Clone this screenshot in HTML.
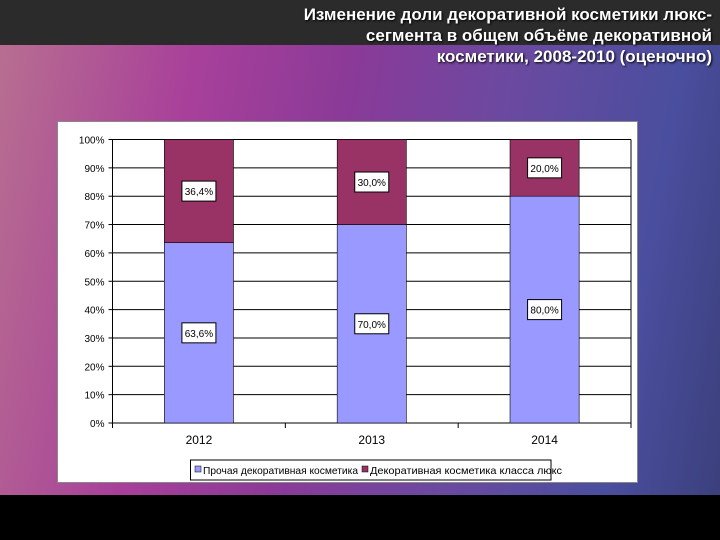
<!DOCTYPE html>
<html><head><meta charset="utf-8"><style>
body{margin:0;width:720px;height:540px;overflow:hidden;position:relative;font-family:"Liberation Sans",sans-serif;
background:linear-gradient(100deg,#b87090 0%,#a8409a 25%,#8a3a98 45%,#6a4aa0 65%,#4a4e9e 85%,#3a3f7a 100%);}
#hdr{position:absolute;left:0;top:0;width:720px;height:45px;background:#2b2b2b;}
#title{position:absolute;right:8px;top:4px;text-align:right;color:#fff;font-weight:bold;font-size:17px;line-height:21px;text-shadow:1px 1px 2px #000;}
#foot{position:absolute;left:0;top:495px;width:720px;height:45px;background:#000;}
#box{position:absolute;left:57px;top:121px;width:581px;height:362px;background:#fff;border:1px solid #888;box-sizing:border-box;}
svg{position:absolute;left:0;top:0;}
</style></head><body>
<div id="hdr"></div>
<div id="title">Изменение доли декоративной косметики люкс-<br>сегмента в общем объёме декоративной<br>косметики, 2008-2010 (оценочно)</div>
<div id="foot"></div>
<div id="box"></div>
<svg id="chart" width="720" height="540"></svg>
<script>
const categories=["2012","2013","2014"];
const otherVals=[63.6,70.0,80.0];
const luxVals=[36.4,30.0,20.0];
const otherLabels=["63,6%","70,0%","80,0%"];
const luxLabels=["36,4%","30,0%","20,0%"];
const yTicks=[0,10,20,30,40,50,60,70,80,90,100];
const legendNames=["Прочая декоративная косметика","Декоративная косметика класса люкс"];

const svg=document.getElementById('chart');const NS='http://www.w3.org/2000/svg';
const L=112.5,R=631,T=139.5,B=423;
const y=v=>B-(v/100)*(B-T);
const cw=(R-L)/categories.length;
const x=i=>L+cw*i+cw/2;
function mk(t,a,p){const e=document.createElementNS(NS,t);for(const k in a)e.setAttribute(k,a[k]);(p||svg).appendChild(e);return e;}
yTicks.forEach(v=>{
 const g=mk('line',{x1:L,x2:R,y1:y(v),y2:y(v),stroke:'#000','stroke-width':1});
 
 
 mk('line',{x1:L-4,x2:L,y1:y(v),y2:y(v),stroke:'#000'});
 const t=mk('text',{x:L-8,y:y(v)+4,'text-anchor':'end','font-size':10,fill:'#000'});t.textContent=v+'%';
 
 
});
mk('line',{x1:L,x2:L,y1:T,y2:B,stroke:'#000'});
mk('line',{x1:R,x2:R,y1:T,y2:B,stroke:'#000'});
for(let i=0;i<=categories.length;i++)mk('line',{x1:L+cw*i,x2:L+cw*i,y1:B,y2:B+5,stroke:'#000'});
const bw=cw*0.4;
function label(cx,cy,txt){
 const w=34,h=20;
 const r=mk('rect',{x:cx-w/2,y:cy-h/2,width:w,height:h,fill:'#fff',stroke:'#000'});
 
 
 const t=mk('text',{x:cx,y:cy+4,'text-anchor':'middle','font-size':10,fill:'#000'});t.textContent=txt;
 
 
}
categories.forEach((c,i)=>{
 const o=otherVals[i],l=luxVals[i];
 const b1=mk('rect',{x:x(i)-bw/2,y:y(o),width:bw,height:y(0)-y(o),fill:'#9999ff',stroke:'#000','stroke-width':0.6});
 
 
 const b2=mk('rect',{x:x(i)-bw/2,y:y(o+l),width:bw,height:y(o)-y(o+l),fill:'#993366',stroke:'#000','stroke-width':0.6});
 
 
 label(x(i),y(o+l/2),luxLabels[i]);
 label(x(i),y(o/2),otherLabels[i]);
 const t=mk('text',{x:x(i),y:444,'text-anchor':'middle','font-size':12,fill:'#000'});t.textContent=c;
 
 
});
const lg=mk('rect',{x:190.5,y:460,width:360.5,height:20,fill:'#fff',stroke:'#000'});


mk('rect',{x:195,y:466,width:6,height:6,fill:'#9999ff',stroke:'#000','stroke-width':0.5});
const t1=mk('text',{x:203,y:474,'font-size':10.5,fill:'#000',textLength:155,lengthAdjust:'spacingAndGlyphs'});t1.textContent='Прочая декоративная косметика';


mk('rect',{x:362,y:466,width:6,height:6,fill:'#993366',stroke:'#000','stroke-width':0.5});
const t2=mk('text',{x:370,y:474,'font-size':10.5,fill:'#000',textLength:192,lengthAdjust:'spacingAndGlyphs'});t2.textContent='Декоративная косметика класса люкс';


</script>
</body></html>
